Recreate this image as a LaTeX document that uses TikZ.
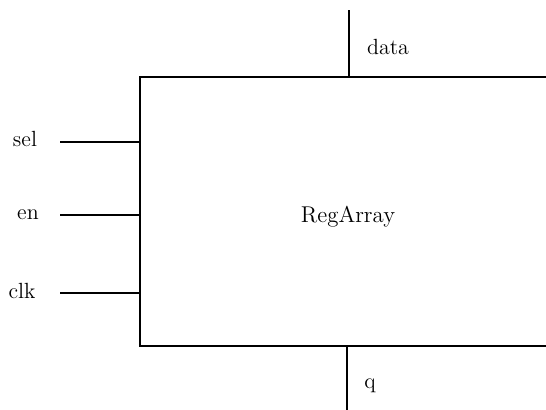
\documentclass[tikz,border=0pt]{standalone}
\usepackage{tikz}
\usetikzlibrary{positioning,calc}

\tikzset{
	pin/.style={line width=1.1pt},
	pinlabel/.style={font=\fontsize{12.5}{15}\selectfont,inner sep=0pt},
	block/.style={draw,line width=1.1pt,rectangle,minimum width=9.2cm,minimum height=5.38cm,inner sep=0pt}
}

\begin{document}
\begin{tikzpicture}[x=0.02cm,y=-0.02cm]
		
		\clip (0,0) rectangle (546,409);
		\useasboundingbox (0,0) rectangle (546,409);
		
		\node[block] (regarray) at (370,211.5) {};
		\node[pinlabel,font=\fontsize{13}{15}\selectfont] (name) at (348,217) {RegArray};
		
		\coordinate (selend) at (60,142);
		\coordinate (enend) at (60,215);
		\coordinate (clkend) at (60,293);
		\coordinate (dataend) at (349,10);
		\coordinate (qend) at (347,412);
		
		\draw[pin] (selend) -- (regarray.west |- selend);
		\draw[pin] (enend) -- (regarray.west |- enend);
		\draw[pin] (clkend) -- (regarray.west |- clkend);
		\draw[pin] (dataend) -- (regarray.north -| dataend);
		\draw[pin] (qend) -- (regarray.south -| qend);
		
		\node[pinlabel] (sel) at (25,139) {sel};
		\node[pinlabel] (en) at (28,215) {en};
		\node[pinlabel] (clk) at (22,291) {clk};
		\node[pinlabel] (data) at (388,47) {data};
		\node[pinlabel] (q) at (370,386) {q};
		
	\end{tikzpicture}
\end{document}
